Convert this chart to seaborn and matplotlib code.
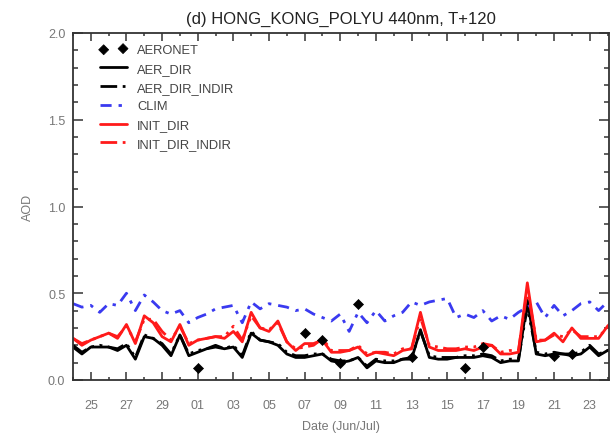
import numpy as np
import pandas as pd
import matplotlib
matplotlib.use("Agg")
import matplotlib.pyplot as plt
import matplotlib.dates as mdates
import seaborn as sns

# ---- data: half-daily forecasts, 24 Jun - 24 Jul ----
times = pd.date_range("2012-06-24 00:00", periods=62, freq="12h")

aer_dir = [0.19, 0.15, 0.19, 0.19, 0.19, 0.17, 0.20, 0.12, 0.25, 0.24,
           0.20, 0.14, 0.26, 0.14, 0.16, 0.18, 0.19, 0.18, 0.19, 0.13,
           0.27, 0.23, 0.22, 0.20, 0.15, 0.13, 0.13, 0.14, 0.15, 0.11,
           0.10, 0.11, 0.13, 0.07, 0.11, 0.10, 0.10, 0.12, 0.12, 0.29,
           0.13, 0.12, 0.12, 0.13, 0.13, 0.13, 0.14, 0.13, 0.10, 0.11,
           0.11, 0.46, 0.15, 0.14, 0.15, 0.15, 0.14, 0.15, 0.19, 0.14,
           0.17, 0.18]

aer_dir_indir = [0.20, 0.16, 0.19, 0.20, 0.19, 0.18, 0.21, 0.13, 0.26, 0.24,
                 0.21, 0.15, 0.26, 0.15, 0.17, 0.18, 0.20, 0.18, 0.20, 0.14,
                 0.28, 0.23, 0.22, 0.21, 0.16, 0.14, 0.14, 0.15, 0.15, 0.12,
                 0.11, 0.11, 0.13, 0.08, 0.12, 0.11, 0.11, 0.12, 0.13, 0.28,
                 0.14, 0.13, 0.13, 0.13, 0.14, 0.14, 0.15, 0.14, 0.11, 0.12,
                 0.12, 0.42, 0.16, 0.15, 0.16, 0.15, 0.15, 0.16, 0.20, 0.15,
                 0.17, 0.19]

clim = [0.44, 0.42, 0.43, 0.39, 0.44, 0.43, 0.50, 0.40, 0.49, 0.45,
        0.40, 0.38, 0.40, 0.33, 0.36, 0.38, 0.41, 0.42, 0.43, 0.33,
        0.45, 0.41, 0.44, 0.43, 0.42, 0.40, 0.41, 0.38, 0.36, 0.34,
        0.38, 0.28, 0.39, 0.33, 0.40, 0.34, 0.37, 0.39, 0.45, 0.43,
        0.45, 0.46, 0.47, 0.36, 0.38, 0.36, 0.40, 0.34, 0.37, 0.35,
        0.39, 0.42, 0.45, 0.36, 0.43, 0.37, 0.40, 0.44, 0.45, 0.40,
        0.45, 0.43]

init_dir = [0.24, 0.20, 0.23, 0.25, 0.27, 0.24, 0.32, 0.21, 0.37, 0.33,
            0.25, 0.22, 0.32, 0.20, 0.23, 0.24, 0.25, 0.24, 0.28, 0.22,
            0.39, 0.30, 0.28, 0.34, 0.22, 0.17, 0.21, 0.21, 0.23, 0.16,
            0.16, 0.17, 0.19, 0.14, 0.16, 0.15, 0.14, 0.17, 0.18, 0.39,
            0.19, 0.17, 0.17, 0.17, 0.18, 0.17, 0.19, 0.20, 0.15, 0.15,
            0.16, 0.56, 0.22, 0.23, 0.27, 0.22, 0.30, 0.24, 0.24, 0.24,
            0.31, 0.36]

init_dir_indir = [0.24, 0.21, 0.23, 0.25, 0.27, 0.25, 0.31, 0.22, 0.35, 0.35,
                  0.28, 0.23, 0.31, 0.21, 0.23, 0.24, 0.25, 0.25, 0.31, 0.23,
                  0.37, 0.30, 0.29, 0.33, 0.22, 0.18, 0.19, 0.20, 0.24, 0.17,
                  0.17, 0.17, 0.20, 0.15, 0.16, 0.16, 0.15, 0.18, 0.18, 0.36,
                  0.20, 0.19, 0.18, 0.18, 0.19, 0.19, 0.21, 0.20, 0.16, 0.17,
                  0.17, 0.52, 0.23, 0.23, 0.26, 0.25, 0.29, 0.25, 0.25, 0.25,
                  0.30, 0.35]

aeronet_dates = pd.to_datetime(["2012-07-01", "2012-07-07", "2012-07-08",
                                "2012-07-09", "2012-07-10", "2012-07-13",
                                "2012-07-16", "2012-07-17", "2012-07-21",
                                "2012-07-22"])
aeronet_aod = [0.07, 0.27, 0.23, 0.10, 0.44, 0.13, 0.07, 0.19, 0.14, 0.15]

series_names = ["AER_DIR", "AER_DIR_INDIR", "CLIM", "INIT_DIR", "INIT_DIR_INDIR"]
series_values = [aer_dir, aer_dir_indir, clim, init_dir, init_dir_indir]
series_colors = ["black", "black", "#3a3af0", "#ff1a1a", "#ff1a1a"]
series_styles = ["-", (0, (6, 2, 1, 2, 1, 2)), (0, (4, 2.5, 1.2, 2.5)),
                 "-", (0, (6, 2, 1, 2, 1, 2))]

title_text = "(d) HONG_KONG_POLYU 440nm, T+120"

# ---- figure ----
sns.set_theme(style="ticks")
plt.rcParams["font.family"] = ["Liberation Sans", "DejaVu Sans"]

fig = plt.figure(figsize=(6.13, 4.35), dpi=100)
ax = fig.add_axes([73 / 613, 1 - 381 / 435, (609 - 73) / 613, (381 - 34) / 435])

handles = []
sns.scatterplot(x=aeronet_dates, y=aeronet_aod, marker="D", s=26,
                color="black", edgecolor="black", linewidth=0.5,
                zorder=6, ax=ax, label="AERONET", legend=False)
handles.append(ax.collections[-1])

for name, vals, col, ls in zip(series_names, series_values,
                               series_colors, series_styles):
    sns.lineplot(x=times, y=vals, color=col, linestyle=ls, linewidth=2.0,
                 ax=ax, label=name, legend=False)
    handles.append(ax.lines[-1])

ax.set_xlim(pd.Timestamp("2012-06-24"), pd.Timestamp("2012-07-24 02:00"))
ax.set_ylim(0, 2.0)

# labels on odd days of the month: 25, 27, 29, 01, 03, ...
ax.xaxis.set_major_locator(mdates.DayLocator(bymonthday=range(1, 32, 2)))
ax.xaxis.set_minor_locator(mdates.DayLocator())
ax.xaxis.set_major_formatter(mdates.DateFormatter("%d"))
ax.yaxis.set_major_locator(matplotlib.ticker.MultipleLocator(0.5))
ax.yaxis.set_minor_locator(matplotlib.ticker.MultipleLocator(0.1))
ax.yaxis.set_major_formatter(matplotlib.ticker.FormatStrFormatter("%.1f"))

tick_col = "#333333"
label_col = "#777777"
for side in ["left", "right", "top", "bottom"]:
    ax.spines[side].set_visible(True)
    ax.spines[side].set_color(tick_col)
    ax.spines[side].set_linewidth(1.3)

ax.tick_params(axis="x", which="major", direction="in", length=5.5, width=1.1,
               top=True, bottom=True, color=tick_col, labelcolor=label_col,
               labelsize=9, pad=14)
ax.tick_params(axis="x", which="minor", direction="in", length=2.3, width=1.1,
               top=True, bottom=True, color=tick_col)
ax.tick_params(axis="y", which="major", direction="in", length=7.2, width=1.1,
               left=True, right=True, color=tick_col, labelcolor=label_col,
               labelsize=9, pad=5.5)
ax.tick_params(axis="y", which="minor", direction="in", length=3.6, width=1.1,
               left=True, right=True, color=tick_col)

ax.set_title(title_text, fontsize=12, color="#222222", pad=7)
ax.set_ylabel("AOD", fontsize=9, color=label_col, labelpad=10)
ax.set_xlabel("Date (Jun/Jul)", fontsize=9, color=label_col, labelpad=6)

leg = ax.legend(handles=handles, labels=["AERONET"] + series_names,
                loc="upper left", bbox_to_anchor=(0.05, 0.968),
                frameon=False, fontsize=9.3, scatterpoints=2,
                handlelength=2.1, handletextpad=0.8, labelspacing=0.52,
                borderpad=0, borderaxespad=0)
for t in leg.get_texts():
    t.set_color("#444444")

fig.savefig("out.png", dpi=100)
